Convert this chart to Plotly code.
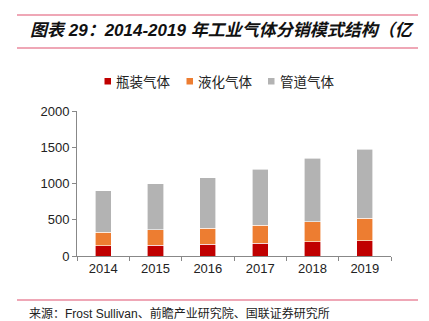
import plotly.graph_objects as go

years = ["2014", "2015", "2016", "2017", "2018", "2019"]
bottled = [140, 150, 160, 175, 195, 210]
liquid = [190, 210, 225, 250, 280, 310]
pipeline = [570, 640, 695, 775, 875, 955]
series_names = ["瓶装气体", "液化气体", "管道气体"]
colors = ["#C00000", "#ED7D31", "#B3B3B3"]

W, H = 429, 321
L, R, T, B = 77, 38, 111, 65
pw, ph = W - L - R, H - T - B

def px(x):
    return (x - L) / pw

def py(y):
    return (H - B - y) / ph

fig = go.Figure()
for name, vals, c in zip(series_names, [bottled, liquid, pipeline], colors):
    fig.add_trace(go.Bar(x=years, y=vals, name=name, marker=dict(color=c, line=dict(color="white", width=0.6)),
                         width=0.31, showlegend=False))

fig.update_layout(
    barmode="stack",
    width=W, height=H,
    margin=dict(l=L, r=R, t=T, b=B),
    paper_bgcolor="white", plot_bgcolor="white",
    font=dict(family="Arial, Liberation Sans, Noto Sans CJK SC", size=12, color="#222"),
    xaxis=dict(showline=True, linecolor="#888", linewidth=1, ticks="outside", tickson="boundaries",
               ticklen=4, tickcolor="#888", tickfont=dict(size=13, family="Arial, Liberation Sans"),
               showgrid=False),
    yaxis=dict(range=[0, 2000], dtick=500, showline=True, linecolor="#888", linewidth=1,
               ticks="outside", ticklen=4, tickcolor="#888", showgrid=False, zeroline=False,
               tickfont=dict(size=13, family="Arial, Liberation Sans")),
)

# custom legend
leg_x = [104.5, 186.5, 268]
for name, c, lx in zip(series_names, colors, leg_x):
    fig.add_shape(type="rect", xref="paper", yref="paper", x0=px(lx), x1=px(lx + 6.5),
                  y0=py(84.5), y1=py(78), fillcolor=c, line=dict(width=0))
    fig.add_annotation(text=name, xref="paper", yref="paper", x=px(lx + 9.5), y=py(81.5),
                       xanchor="left", yanchor="middle", showarrow=False,
                       font=dict(family="Noto Sans CJK SC", size=13.5, color="#222"))

line_color = "#E0506E"
for yy in [15, 48, 300]:
    fig.add_shape(type="line", xref="paper", yref="paper", x0=px(17), x1=px(418), y0=py(yy), y1=py(yy),
                  line=dict(color=line_color, width=1.2))

fig.add_annotation(text="<b><i>图表 29：2014-2019 年工业气体分销模式结构（亿</i></b>", xref="paper", yref="paper",
                   x=px(28), y=py(30), xanchor="left", yanchor="middle", showarrow=False,
                   font=dict(family="Liberation Sans, Noto Sans CJK SC", size=17, color="#111"))
fig.add_annotation(text="来源：Frost Sullivan、前瞻产业研究院、国联证券研究所", xref="paper", yref="paper",
                   x=px(27), y=py(313), xanchor="left", yanchor="middle", showarrow=False,
                   font=dict(family="Liberation Sans, Noto Sans CJK SC", size=12, color="#222"))

fig.write_html("out.html")
